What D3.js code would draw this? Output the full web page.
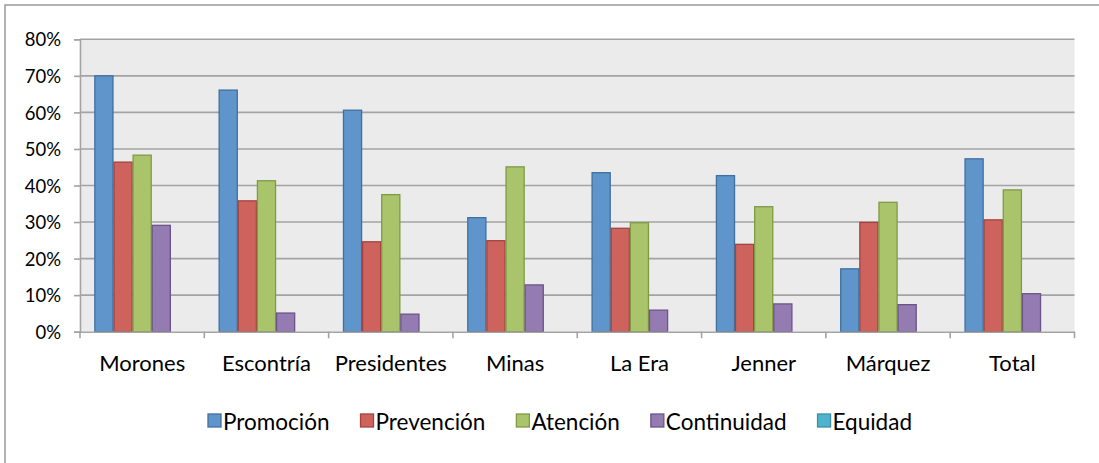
<!DOCTYPE html>
<html>
<head>
<meta charset="utf-8">
<script src="https://cdnjs.cloudflare.com/ajax/libs/d3/7.8.5/d3.min.js"></script>
<style>
  html, body { margin: 0; padding: 0; background: #fff; }
  svg { display: block; }
  text { font-family: Lato, "Open Sans", sans-serif; fill: #000; }
</style>
</head>
<body>
<svg id="chart" width="1099" height="463"></svg>
<script>
// Sites surveyed and the share of each programme component
const categories = ["Morones", "Escontría", "Presidentes", "Minas", "La Era", "Jenner", "Márquez", "Total"];
const seriesNames = ["Promoción", "Prevención", "Atención", "Continuidad", "Equidad"];
const promocion   = [0.700, 0.661, 0.606, 0.312, 0.435, 0.427, 0.172, 0.473];
const prevencion  = [0.464, 0.358, 0.246, 0.249, 0.283, 0.239, 0.299, 0.306];
const atencion    = [0.483, 0.413, 0.375, 0.451, 0.298, 0.342, 0.354, 0.388];
const continuidad = [0.291, 0.051, 0.048, 0.128, 0.059, 0.076, 0.074, 0.104];
const equidad     = [0, 0, 0, 0, 0, 0, 0, 0];
const yTicks = [0, 0.1, 0.2, 0.3, 0.4, 0.5, 0.6, 0.7, 0.8];

const seriesValues = [promocion, prevencion, atencion, continuidad, equidad];
const fills   = ["#5F95CB", "#CE635E", "#A9C46B", "#947CB2", "#4FB3CD"];
const strokes = ["#40709F", "#A3433F", "#7F9B45", "#6C5489", "#3A8FA6"];

const svg = d3.select("#chart");

// outer chart frame
svg.append("rect")
  .attr("x", 5).attr("y", 5).attr("width", 1300).attr("height", 700)
  .attr("fill", "#fff").attr("stroke", "#9A9A9A").attr("stroke-width", 1.5);

const plot = { left: 80, right: 1074.5, top: 39.3, bottom: 331.7 };

const x = d3.scaleBand().domain(categories).range([plot.left, plot.right]).padding(0);
const xs = d3.scaleBand().domain(seriesNames).range([0, x.bandwidth()])
  .paddingInner(0).paddingOuter(0.75);
const y = d3.scaleLinear().domain([0, 0.8]).range([plot.bottom, plot.top]);

// plot background
svg.append("rect")
  .attr("x", plot.left).attr("y", plot.top)
  .attr("width", plot.right - plot.left).attr("height", plot.bottom - plot.top)
  .attr("fill", "#EBEBEB");

// horizontal gridlines
svg.append("g").selectAll("line")
  .data(yTicks.filter(d => d > 0))
  .join("line")
  .attr("x1", plot.left).attr("x2", plot.right)
  .attr("y1", d => y(d)).attr("y2", d => y(d))
  .attr("stroke", "#A3A3A3").attr("stroke-width", 1.6);

// bars
const rows = [];
categories.forEach((c, i) => {
  seriesNames.forEach((s, j) => {
    rows.push({ cat: c, series: s, j, value: seriesValues[j][i] });
  });
});

svg.append("g").selectAll("rect")
  .data(rows.filter(d => d.value > 0))
  .join("rect")
  .attr("x", d => x(d.cat) + xs(d.series) + 0.5)
  .attr("y", d => y(d.value))
  .attr("width", xs.bandwidth() - 1)
  .attr("height", d => y(0) - y(d.value))
  .attr("fill", d => fills[d.j])
  .attr("stroke", d => strokes[d.j])
  .attr("stroke-width", 1.3);

// y axis
const yAxis = svg.append("g")
  .attr("transform", `translate(${plot.left},0)`)
  .call(d3.axisLeft(y).tickValues(yTicks).tickFormat(d3.format(".0%")).tickSize(6).tickPadding(13));
yAxis.select(".domain").attr("stroke", "#A3A3A3").attr("stroke-width", 1.6);
yAxis.selectAll(".tick line").attr("stroke", "#A3A3A3").attr("stroke-width", 1.6);
yAxis.selectAll(".tick text")
  .attr("font-family", "Lato, 'Open Sans', sans-serif")
  .attr("font-size", 18.5).attr("fill", "#000").attr("dy", "0.36em");

// x axis
const xAxis = svg.append("g")
  .attr("transform", `translate(0,${plot.bottom})`)
  .call(d3.axisBottom(x).tickSize(0).tickPadding(0));
xAxis.select(".domain").attr("stroke", "#A3A3A3").attr("stroke-width", 1.6);
xAxis.selectAll(".tick text")
  .attr("font-family", "Lato, 'Open Sans', sans-serif")
  .attr("font-size", 22).attr("fill", "#000")
  .attr("y", 39).attr("dy", 0);
// category separators
svg.append("g").selectAll("line")
  .data(d3.range(categories.length + 1))
  .join("line")
  .attr("x1", i => plot.left + i * x.step()).attr("x2", i => plot.left + i * x.step())
  .attr("y1", plot.bottom).attr("y2", plot.bottom + 6.5)
  .attr("stroke", "#A3A3A3").attr("stroke-width", 1.6);

// legend
const legend = svg.append("g");
const items = legend.selectAll("g").data(seriesNames).join("g");
items.append("rect")
  .attr("x", 0).attr("y", 414).attr("width", 13).attr("height", 13)
  .attr("fill", (d, i) => fills[i]).attr("stroke", (d, i) => strokes[i]).attr("stroke-width", 1.3);
items.append("text")
  .attr("x", 15).attr("y", 429.5)
  .attr("font-size", 22.5)
  .text(d => d);
let cursor = 0;
items.each(function () {
  const g = d3.select(this);
  g.attr("transform", `translate(${cursor},0)`);
  const w = 15 + g.select("text").node().getComputedTextLength();
  cursor += w + 31;
});
const legendWidth = cursor - 31;
legend.attr("transform", `translate(${560 - legendWidth / 2},0)`);
</script>
</body>
</html>
